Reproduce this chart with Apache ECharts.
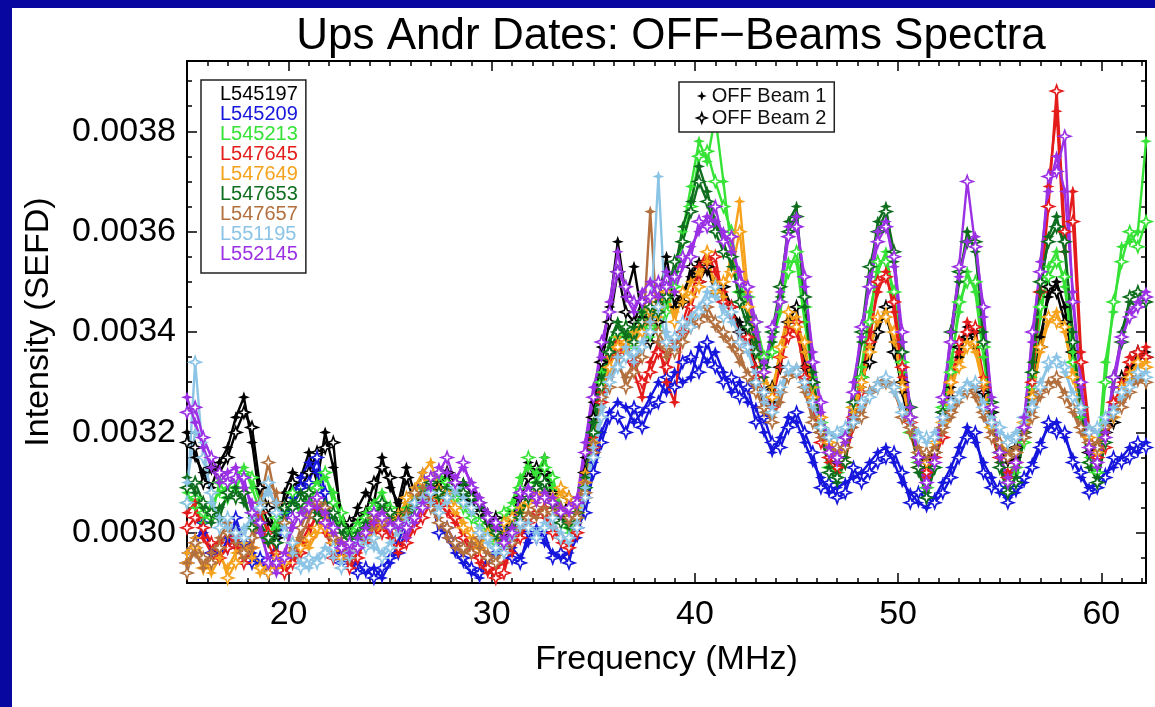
<!DOCTYPE html>
<html>
<head>
<meta charset="utf-8">
<title>Ups Andr Dates: OFF-Beams Spectra</title>
<script src="https://cdn.jsdelivr.net/npm/echarts@6/dist/echarts.min.js"></script>
<style>
  html, body { margin: 0; padding: 0; background: #ffffff; }
  #wrap { position: relative; width: 1155px; height: 707px; overflow: hidden; background: #ffffff; }
  #chart { position: absolute; left: 0; top: 0; width: 1155px; height: 707px; }
  .edge { position: absolute; background: #0808a0; }
</style>
</head>
<body>
<div id="wrap">
  <div id="chart"></div>
  <div class="edge" style="left:0;top:0;width:1155px;height:8px"></div>
  <div class="edge" style="left:0;top:0;width:12px;height:707px"></div>
</div>
<script>
// Frequency channels (MHz)
const FREQ_MHZ = [
  15.0,15.4,15.8,16.2,16.6,17.0,17.4,17.8,18.2,18.6,
  19.0,19.4,19.8,20.2,20.6,21.0,21.4,21.8,22.2,22.6,
  23.0,23.4,23.8,24.2,24.6,25.0,25.4,25.8,26.2,26.6,
  27.0,27.4,27.8,28.2,28.6,29.0,29.4,29.8,30.2,30.6,
  31.0,31.4,31.8,32.2,32.6,33.0,33.4,33.8,34.2,34.6,
  35.0,35.4,35.8,36.2,36.6,37.0,37.4,37.8,38.2,38.6,
  39.0,39.4,39.8,40.2,40.6,41.0,41.4,41.8,42.2,42.6,
  43.0,43.4,43.8,44.2,44.6,45.0,45.4,45.8,46.2,46.6,
  47.0,47.4,47.8,48.2,48.6,49.0,49.4,49.8,50.2,50.6,
  51.0,51.4,51.8,52.2,52.6,53.0,53.4,53.8,54.2,54.6,
  55.0,55.4,55.8,56.2,56.6,57.0,57.4,57.8,58.2,58.6,
  59.0,59.4,59.8,60.2,60.6,61.0,61.4,61.8,62.2
];

// Intensities below are stored in micro-SEFD
const UNIT = 1e-6;

const L545197_b1 = [
  3200,3150,3120,3090,3140,3170,3230,3270,3180,3060,
  3020,3000,3080,3120,3110,3160,3100,3200,3130,3040,
  3000,3050,3080,3060,3150,3090,3060,3130,3080,3050,
  3080,3100,3110,3090,3100,3080,3050,3040,3010,2990,
  3020,3090,3140,3100,3150,3060,3040,3050,3060,3150,
  3260,3370,3450,3580,3470,3530,3430,3410,3460,3550,
  3450,3480,3510,3540,3520,3500,3470,3440,3420,3390,
  3330,3250,3260,3350,3440,3420,3360,3270,3220,3170,
  3160,3170,3240,3290,3370,3420,3430,3380,3280,3210,
  3160,3130,3170,3220,3290,3350,3410,3370,3300,3220,
  3170,3140,3150,3210,3290,3390,3470,3500,3450,3340,
  3230,3170,3150,3190,3240,3290,3330,3340,3360
];
const L545197_b2 = [
  3180,3170,3100,3130,3120,3150,3200,3240,3210,3090,
  3050,2990,3060,3100,3090,3120,3160,3170,3180,3010,
  3020,3030,3040,3100,3130,3110,3040,3110,3060,3070,
  3060,3090,3120,3100,3070,3060,3040,3020,3030,3000,
  3040,3070,3110,3130,3120,3080,3030,3070,3040,3120,
  3230,3340,3420,3520,3440,3420,3460,3380,3420,3480,
  3470,3460,3530,3500,3530,3480,3490,3450,3400,3410,
  3300,3280,3290,3330,3420,3450,3330,3300,3200,3190,
  3140,3190,3220,3310,3340,3400,3450,3360,3300,3230,
  3150,3150,3160,3240,3270,3370,3390,3400,3280,3240,
  3160,3160,3170,3190,3270,3370,3490,3480,3420,3360,
  3250,3160,3170,3200,3220,3310,3310,3360,3350
];

const L545209_b1 = [
  2960,2990,3000,2980,2950,2990,3010,2990,2960,2930,
  2940,2980,3010,3070,3110,3140,3120,3060,3000,2960,
  2930,2940,2920,2930,2910,2940,2980,3030,3080,3120,
  3060,3020,2990,2960,2940,2920,2910,2940,2970,2990,
  2970,2950,2980,3010,2980,2960,2950,2960,2990,3060,
  3140,3200,3240,3260,3250,3220,3240,3270,3300,3280,
  3320,3300,3310,3370,3340,3360,3320,3280,3300,3260,
  3250,3200,3160,3190,3230,3220,3180,3140,3110,3080,
  3090,3100,3110,3120,3140,3160,3170,3140,3100,3080,
  3060,3050,3070,3100,3130,3170,3210,3180,3140,3110,
  3080,3070,3080,3100,3140,3180,3210,3220,3190,3150,
  3110,3090,3100,3120,3130,3150,3170,3160,3180
];
const L545209_b2 = [
  2940,2970,3020,2960,2970,2970,3030,2980,2940,2950,
  2920,2960,3040,3050,3090,3100,3150,3080,2980,2940,
  2950,2920,2930,2910,2930,2950,2960,3010,3060,3090,
  3080,3000,3010,2980,2950,2930,2920,2950,2960,3010,
  2950,2940,3000,2990,3000,2950,2960,2940,3010,3040,
  3120,3180,3230,3230,3200,3250,3210,3250,3260,3310,
  3290,3340,3350,3320,3380,3330,3300,3310,3270,3290,
  3220,3230,3180,3170,3210,3240,3200,3160,3090,3100,
  3070,3080,3130,3100,3120,3140,3150,3160,3120,3060,
  3080,3070,3060,3080,3110,3150,3190,3200,3120,3090,
  3090,3060,3090,3110,3130,3170,3220,3200,3200,3140,
  3120,3080,3090,3110,3150,3140,3150,3180,3170
];

const L545213_b1 = [
  3080,3050,3020,3060,3080,3090,3110,3130,3090,3040,
  3000,3010,3040,3060,3050,3080,3100,3110,3080,3020,
  3000,3020,3040,3060,3080,3040,3020,3050,3070,3080,
  3100,3110,3090,3080,3060,3040,3010,2990,3000,3020,
  3060,3110,3130,3120,3150,3090,3040,3000,3020,3110,
  3220,3320,3380,3420,3380,3400,3420,3390,3430,3460,
  3520,3600,3690,3780,3740,3830,3700,3560,3500,3450,
  3400,3330,3380,3440,3540,3540,3420,3310,3200,3140,
  3110,3150,3230,3330,3440,3520,3560,3460,3320,3220,
  3130,3100,3150,3230,3340,3440,3520,3480,3350,3230,
  3150,3110,3120,3200,3310,3430,3530,3560,3490,3360,
  3230,3150,3140,3340,3440,3570,3580,3600,3780
];
const L545213_b2 = [
  3060,3070,3040,3030,3100,3070,3090,3120,3110,3060,
  2990,3030,3020,3080,3030,3060,3090,3120,3060,3040,
  2990,3010,3030,3050,3060,3050,3010,3040,3060,3090,
  3080,3120,3100,3070,3050,3030,3020,3000,2980,3040,
  3050,3090,3150,3100,3130,3110,3050,3010,3030,3090,
  3200,3300,3360,3390,3410,3370,3440,3410,3400,3440,
  3490,3580,3650,3750,3760,3700,3650,3600,3480,3470,
  3420,3350,3360,3460,3520,3560,3450,3290,3220,3130,
  3120,3140,3250,3310,3420,3540,3540,3480,3340,3200,
  3140,3090,3130,3250,3320,3460,3500,3500,3370,3210,
  3160,3100,3130,3180,3290,3450,3510,3540,3510,3340,
  3250,3140,3120,3300,3460,3540,3600,3570,3620
];

const L547645_b1 = [
  3040,3060,2990,2960,2980,3000,2970,2950,2990,3020,
  2980,2940,2930,2950,2980,3010,3030,3000,2970,2950,
  2940,2960,2980,3000,3020,2990,2960,2990,3020,3050,
  3070,3060,3040,3020,3000,2970,2940,2920,2930,2940,
  2960,3000,3030,3050,3030,3010,2980,2990,3020,3090,
  3190,3280,3330,3380,3350,3320,3270,3340,3380,3300,
  3260,3420,3470,3530,3560,3520,3480,3430,3400,3370,
  3330,3260,3270,3330,3410,3400,3330,3250,3190,3140,
  3120,3150,3210,3300,3400,3480,3520,3440,3310,3200,
  3140,3110,3140,3200,3280,3360,3420,3400,3310,3200,
  3140,3120,3130,3190,3320,3520,3690,3840,3560,3680,
  3360,3210,3140,3180,3240,3300,3350,3340,3370
];
const L547645_b2 = [
  3010,3030,3010,2980,2950,2970,2990,2940,2970,3040,
  3000,2960,2920,2940,2960,2990,3050,3020,2950,2970,
  2930,2950,2990,3020,3000,3010,2970,2980,3010,3030,
  3060,3080,3050,3030,2990,2960,2950,2930,2910,2920,
  2980,2990,3020,3040,3050,3000,2990,2970,3000,3070,
  3170,3260,3350,3360,3380,3340,3300,3320,3360,3330,
  3380,3400,3450,3500,3540,3550,3460,3450,3380,3390,
  3310,3280,3250,3350,3390,3420,3310,3270,3180,3150,
  3130,3140,3230,3280,3380,3500,3510,3460,3330,3220,
  3130,3120,3150,3190,3300,3380,3400,3410,3290,3220,
  3150,3110,3140,3200,3300,3480,3650,3880,3600,3620,
  3340,3200,3150,3170,3260,3290,3340,3360,3350
];

const L547649_b1 = [
  2960,2990,2950,2920,2950,2930,2960,2980,2950,2920,
  2940,2930,2950,2960,2990,2970,3000,3030,3000,2970,
  2950,2970,2990,3010,3030,3010,3040,3060,3090,3120,
  3140,3090,3060,3040,3020,2990,2980,2990,3010,3000,
  3020,3050,3070,3060,3080,3060,3080,3060,3050,3120,
  3200,3270,3350,3390,3360,3400,3420,3460,3430,3470,
  3440,3460,3500,3520,3540,3500,3470,3560,3660,3480,
  3380,3300,3290,3350,3420,3430,3360,3290,3220,3170,
  3150,3180,3240,3290,3370,3420,3440,3380,3300,3220,
  3170,3150,3170,3230,3280,3340,3380,3360,3290,3220,
  3170,3150,3170,3210,3280,3360,3420,3440,3400,3320,
  3240,3180,3170,3200,3240,3280,3320,3330,3340
];
const L547649_b2 = [
  2940,2970,2930,2940,2970,2910,2940,2960,2970,2930,
  2920,2950,2940,2980,2970,2990,3010,3010,2980,2950,
  2960,2980,3000,2990,3020,3030,3020,3070,3080,3100,
  3110,3070,3080,3050,3010,3000,2970,3000,2990,3020,
  3030,3040,3060,3080,3070,3070,3090,3070,3040,3100,
  3180,3290,3330,3370,3380,3380,3400,3440,3450,3480,
  3420,3480,3470,3490,3560,3480,3500,3520,3600,3450,
  3360,3320,3270,3370,3440,3410,3380,3270,3230,3180,
  3160,3170,3250,3300,3360,3430,3430,3400,3290,3230,
  3160,3140,3180,3220,3300,3330,3370,3380,3300,3210,
  3180,3160,3160,3220,3270,3370,3430,3420,3410,3310,
  3250,3190,3160,3210,3230,3290,3310,3340,3330
];

const L547653_b1 = [
  3110,3080,3050,3020,3050,3070,3090,3060,3030,3000,
  2980,3000,3030,3060,3080,3060,3040,3060,3030,3000,
  2980,3000,3020,3040,3050,3030,3010,3030,3060,3080,
  3090,3070,3090,3080,3100,3090,3050,3020,2990,2980,
  3000,3040,3080,3100,3080,3050,3030,3010,3030,3110,
  3220,3310,3380,3420,3390,3410,3440,3420,3460,3490,
  3520,3610,3660,3730,3680,3620,3580,3530,3480,3430,
  3380,3310,3380,3470,3620,3650,3450,3320,3200,3130,
  3100,3150,3280,3380,3510,3620,3650,3540,3380,3230,
  3120,3080,3140,3260,3380,3500,3600,3560,3400,3240,
  3140,3090,3110,3190,3340,3480,3590,3630,3560,3400,
  3240,3130,3110,3200,3290,3400,3460,3450,3470
];
const L547653_b2 = [
  3090,3100,3060,3040,3030,3080,3070,3080,3010,3020,
  2990,2980,3050,3050,3060,3080,3030,3050,3040,3010,
  2990,2990,3010,3030,3060,3040,3020,3040,3050,3070,
  3100,3080,3070,3090,3080,3070,3060,3030,3000,2970,
  3010,3030,3070,3090,3100,3060,3020,3020,3040,3090,
  3200,3290,3360,3400,3410,3380,3420,3450,3440,3470,
  3540,3580,3640,3700,3660,3600,3560,3550,3460,3410,
  3360,3330,3400,3490,3600,3630,3470,3300,3210,3120,
  3110,3140,3260,3400,3530,3600,3640,3560,3360,3250,
  3130,3070,3130,3240,3400,3520,3580,3580,3380,3260,
  3130,3080,3100,3200,3320,3500,3580,3610,3580,3380,
  3250,3140,3100,3180,3310,3380,3470,3480,3460
];

const L547657_b1 = [
  2940,2960,2930,2960,2990,3020,2980,2950,2970,3040,
  3100,3080,3000,2970,2990,3030,3070,3040,3000,2970,
  2960,2980,3000,3010,3040,3020,3000,3040,3060,3090,
  3060,3030,2990,2970,2960,2980,2970,2960,2950,2960,
  2990,3020,3040,3030,3050,3030,3040,3020,3040,3100,
  3180,3250,3310,3330,3310,3340,3370,3640,3380,3350,
  3380,3400,3420,3440,3430,3410,3390,3370,3340,3320,
  3290,3240,3230,3260,3320,3330,3280,3230,3190,3170,
  3160,3180,3210,3240,3270,3300,3310,3280,3240,3200,
  3170,3150,3170,3200,3230,3260,3290,3270,3230,3200,
  3170,3160,3170,3200,3240,3270,3300,3300,3280,3240,
  3200,3170,3180,3200,3230,3260,3290,3300,3310
];
const L547657_b2 = [
  2920,2980,2950,2940,2970,3000,3000,2960,2990,3060,
  3140,3060,3020,2960,3010,3050,3060,3050,2990,2980,
  2950,2970,2990,3030,3020,3010,3020,3030,3080,3070,
  3050,3020,3010,2980,2970,2960,2990,2950,2940,2970,
  2980,3010,3030,3050,3040,3040,3050,3030,3030,3080,
  3160,3270,3290,3350,3290,3320,3350,3420,3400,3370,
  3360,3380,3410,3420,3450,3420,3400,3380,3360,3310,
  3280,3250,3220,3280,3310,3320,3290,3220,3200,3160,
  3170,3170,3220,3230,3280,3290,3300,3290,3230,3210,
  3160,3160,3160,3210,3240,3270,3280,3290,3240,3190,
  3180,3150,3160,3190,3230,3280,3290,3310,3270,3250,
  3210,3180,3170,3210,3240,3250,3280,3310,3300
];

const L551195_b1 = [
  3100,3200,3180,3060,3030,3010,2990,3010,3030,3060,
  3080,3060,3010,2960,2940,2930,2950,2970,2950,2940,
  2950,2970,2990,2970,2960,2980,3000,3030,3050,3070,
  3060,3050,3060,3080,3070,3040,3010,2980,2960,2970,
  2990,3010,3020,3000,3020,3010,3000,2980,3020,3090,
  3170,3250,3310,3350,3370,3340,3380,3420,3710,3400,
  3370,3400,3430,3450,3480,3470,3450,3420,3400,3360,
  3320,3260,3250,3280,3320,3330,3290,3250,3220,3200,
  3190,3200,3230,3250,3280,3300,3300,3280,3250,3220,
  3200,3180,3200,3220,3250,3280,3300,3290,3260,3230,
  3200,3190,3200,3220,3260,3300,3330,3350,3320,3280,
  3240,3210,3200,3220,3250,3270,3300,3310,3320
];
const L551195_b2 = [
  3060,3340,3150,3080,3010,3030,3000,2990,3040,3050,
  3100,3040,3000,2980,2930,2950,2940,2960,2970,2930,
  2960,2980,2970,2990,2950,2970,3010,3020,3060,3060,
  3080,3040,3070,3090,3060,3050,3000,2990,2970,2960,
  3000,3020,3010,2990,3010,3030,2990,2990,3010,3070,
  3150,3230,3300,3330,3350,3360,3370,3400,3450,3380,
  3390,3420,3410,3440,3460,3490,3430,3440,3380,3370,
  3300,3280,3240,3290,3330,3320,3300,3260,3210,3190,
  3200,3210,3220,3260,3270,3290,3310,3290,3240,3230,
  3190,3190,3190,3230,3260,3270,3290,3300,3250,3220,
  3210,3180,3190,3230,3250,3290,3340,3340,3330,3270,
  3250,3200,3210,3230,3240,3280,3290,3320,3310
];

const L552145_b1 = [
  3270,3220,3170,3130,3100,3120,3130,3090,3060,3000,
  2950,2920,2960,3010,3040,3060,3050,3040,3000,2980,
  2960,2990,3010,3020,3040,3020,3010,2990,3020,3060,
  3090,3130,3120,3110,3130,3100,3070,3040,3010,2990,
  3010,3070,3090,3060,3080,3070,3050,3040,3070,3180,
  3290,3350,3460,3560,3470,3440,3480,3500,3470,3520,
  3480,3530,3570,3600,3630,3620,3600,3560,3520,3470,
  3400,3340,3390,3480,3610,3630,3490,3360,3240,3170,
  3140,3180,3300,3390,3510,3600,3620,3530,3380,3250,
  3140,3090,3150,3260,3400,3510,3580,3590,3430,3270,
  3150,3110,3130,3230,3380,3540,3680,3750,3680,3480,
  3290,3160,3130,3200,3290,3380,3440,3460,3480
];
const L552145_b2 = [
  3240,3250,3190,3150,3120,3100,3110,3110,3040,3020,
  2940,2940,2950,3030,3030,3050,3070,3020,3010,2970,
  2980,2970,3000,3040,3030,3010,3020,3010,3030,3050,
  3110,3120,3150,3100,3140,3090,3060,3030,3020,2980,
  3000,3080,3080,3070,3070,3060,3040,3050,3060,3160,
  3270,3380,3440,3520,3490,3460,3460,3470,3500,3490,
  3510,3550,3550,3620,3610,3650,3580,3590,3500,3490,
  3420,3320,3410,3460,3590,3610,3510,3340,3260,3160,
  3150,3190,3280,3410,3490,3580,3610,3550,3400,3230,
  3150,3100,3140,3270,3380,3530,3700,3570,3450,3250,
  3160,3100,3140,3210,3400,3520,3710,3720,3790,3460,
  3300,3170,3140,3190,3310,3390,3430,3450,3470
];

// Observation list, legend order, with the two OFF beams of each
const OBSERVATIONS = [
  { name: 'L545197', color: '#000000', beams: [L545197_b1, L545197_b2] },
  { name: 'L545209', color: '#1616dc', beams: [L545209_b1, L545209_b2] },
  { name: 'L545213', color: '#36e236', beams: [L545213_b1, L545213_b2] },
  { name: 'L547645', color: '#e41c1c', beams: [L547645_b1, L547645_b2] },
  { name: 'L547649', color: '#f6a21c', beams: [L547649_b1, L547649_b2] },
  { name: 'L547653', color: '#0e6e1e', beams: [L547653_b1, L547653_b2] },
  { name: 'L547657', color: '#b3703f', beams: [L547657_b1, L547657_b2] },
  { name: 'L551195', color: '#8cc4e6', beams: [L551195_b1, L551195_b2] },
  { name: 'L552145', color: '#9b30e4', beams: [L552145_b1, L552145_b2] }
];
const BEAM_NAMES = ['OFF Beam 1', 'OFF Beam 2'];

const X_MAJOR = [20, 30, 40, 50, 60];
const Y_MAJOR = [0.0030, 0.0032, 0.0034, 0.0036, 0.0038];
const X_MIN = 15, X_MAX = 62.2;
const Y_MIN = 0.0029, Y_MAX = 0.00394;

const FONT = "'Liberation Sans', Arial, Helvetica, sans-serif";
const STAR = 'path://M0,-10L2.6,-2.6L10,0L2.6,2.6L0,10L-2.6,2.6L-10,0L-2.6,-2.6Z';
const INK = '#000000';

function beamStyle(beam, color) {
  return beam === 0
    ? { color: color }
    : { color: '#ffffff', borderColor: color, borderWidth: 1.6 };
}

const series = [];
OBSERVATIONS.forEach(function (obs) {
  obs.beams.forEach(function (vals, b) {
    series.push({
      type: 'line',
      name: obs.name,
      xAxisIndex: 0,
      yAxisIndex: 0,
      data: FREQ_MHZ.map(function (f, i) { return [f, vals[i] * UNIT]; }),
      symbol: STAR,
      symbolSize: 12,
      showSymbol: true,
      showAllSymbol: true,
      clip: true,
      lineStyle: { color: obs.color, width: 2.4 },
      itemStyle: beamStyle(b, obs.color),
      emphasis: { disabled: true },
      silent: true
    });
  });
});
// Empty series carrying the two beam marker styles for the marker key
BEAM_NAMES.forEach(function (name, b) {
  series.push({
    type: 'line', name: name, data: [], symbol: STAR,
    itemStyle: beamStyle(b, INK), lineStyle: { color: INK }
  });
});

const tickLine = { color: INK, width: 1.5 };
const axisLine = { show: true, lineStyle: { color: INK, width: 2 } };

function xAxis(position, major) {
  return {
    type: 'value', position: position, min: X_MIN, max: X_MAX,
    interval: major ? undefined : 1,
    axisLine: major ? axisLine : { show: false },
    axisTick: major
      ? { show: true, inside: true, length: 10, customValues: X_MAJOR, lineStyle: tickLine }
      : { show: true, inside: true, length: 5, lineStyle: tickLine },
    axisLabel: (major && position === 'bottom')
      ? { show: true, customValues: X_MAJOR, color: INK, fontSize: 34, fontFamily: FONT, margin: 15 }
      : { show: false },
    splitLine: { show: false }
  };
}
function yAxis(position, major) {
  return {
    type: 'value', position: position, min: Y_MIN, max: Y_MAX,
    interval: major ? undefined : 0.00005,
    axisLine: major ? axisLine : { show: false },
    axisTick: major
      ? { show: true, inside: true, length: 10, customValues: Y_MAJOR, lineStyle: tickLine }
      : { show: true, inside: true, length: 5, lineStyle: tickLine },
    axisLabel: (major && position === 'left')
      ? { show: true, customValues: Y_MAJOR, color: INK, fontSize: 34, fontFamily: FONT, margin: 11,
          formatter: function (v) { return v.toFixed(4); } }
      : { show: false },
    splitLine: { show: false }
  };
}

const xAxes = [xAxis('bottom', true), xAxis('bottom', false), xAxis('top', true), xAxis('top', false)];
xAxes[0].name = 'Frequency (MHz)';
xAxes[0].nameLocation = 'middle';
xAxes[0].nameGap = 60;
xAxes[0].nameTextStyle = { color: INK, fontSize: 34, fontFamily: FONT };

const yAxes = [yAxis('left', true), yAxis('left', false), yAxis('right', true), yAxis('right', false)];
yAxes[0].name = 'Intensity (SEFD)';
yAxes[0].nameLocation = 'middle';
yAxes[0].nameGap = 131;
yAxes[0].nameTextStyle = { color: INK, fontSize: 34, fontFamily: FONT };

const chart = echarts.init(document.getElementById('chart'), null, { renderer: 'canvas' });
chart.setOption({
  animation: false,
  backgroundColor: '#ffffff',
  textStyle: { fontFamily: FONT },
  title: {
    text: 'Ups Andr Dates: OFF\u2212Beams Spectra',
    left: 666, top: 10, textAlign: 'center',
    textStyle: { color: INK, fontSize: 44, fontWeight: 'normal', fontFamily: FONT }
  },
  grid: { left: 187, right: 9, top: 61, bottom: 124, containLabel: false },
  xAxis: xAxes,
  yAxis: yAxes,
  legend: [
    {
      orient: 'vertical', left: 201, top: 80,
      data: OBSERVATIONS.map(function (o) { return { name: o.name, textStyle: { color: o.color } }; }),
      icon: 'rect', itemWidth: 0, itemHeight: 0, itemGap: 0,
      padding: [4, 8, 9, 14],
      borderColor: '#222222', borderWidth: 1.5, backgroundColor: '#ffffff',
      textStyle: { fontSize: 20, lineHeight: 20, fontFamily: FONT },
      selectedMode: false
    },
    {
      orient: 'vertical', left: 679, top: 82,
      data: BEAM_NAMES.map(function (n, b) { return { name: n, icon: STAR, itemStyle: beamStyle(b, INK) }; }),
      itemWidth: 10, itemHeight: 10, itemGap: 2,
      padding: [4, 8, 4, 17],
      borderColor: '#222222', borderWidth: 1.5, backgroundColor: '#ffffff',
      textStyle: { fontSize: 20, lineHeight: 20, color: '#111111', fontFamily: FONT },
      selectedMode: false
    }
  ],
  series: series
});
</script>
</body>
</html>
